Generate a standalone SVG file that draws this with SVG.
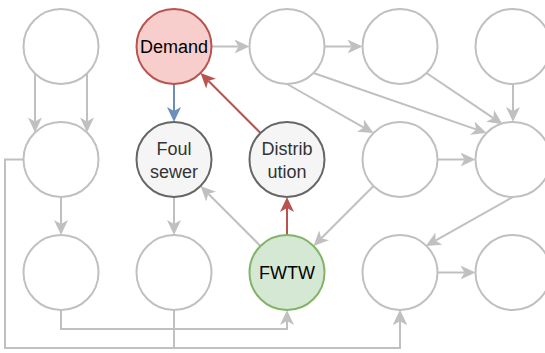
<svg xmlns="http://www.w3.org/2000/svg" width="545" height="353" viewBox="0 0 545 353">
  <style>
    .n { fill: #ffffff; stroke: #c0c0c0; stroke-width: 2; }
    .demand { fill: #f8cecc; stroke: #b85450; stroke-width: 2; }
    .grey { fill: #f5f5f5; stroke: #666666; stroke-width: 2; }
    .green { fill: #d5e8d4; stroke: #82b366; stroke-width: 2; }
    .e { fill: none; stroke: #c0c0c0; stroke-width: 2; marker-end: url(#ag); }
    .er { fill: none; stroke: #b85450; stroke-width: 2; marker-end: url(#ar); }
    .eb { fill: none; stroke: #6c8ebf; stroke-width: 2; marker-end: url(#ab); }
    .t { font-family: "Liberation Sans", Arial, Helvetica, sans-serif; font-size: 18px; text-anchor: middle; }
    .dark { fill: #000000; }
    .mid { fill: #333333; }
  </style>
  <defs>
    <marker id="ag" markerUnits="userSpaceOnUse" markerWidth="16" markerHeight="16" viewBox="0 0 16 16" refX="4" refY="8" orient="auto">
      <path d="M0,1 L15,8 L0,15 L4,8 z" fill="#c0c0c0"/>
    </marker>
    <marker id="ar" markerUnits="userSpaceOnUse" markerWidth="16" markerHeight="16" viewBox="0 0 16 16" refX="4" refY="8" orient="auto">
      <path d="M0,1 L15,8 L0,15 L4,8 z" fill="#b85450"/>
    </marker>
    <marker id="ab" markerUnits="userSpaceOnUse" markerWidth="16" markerHeight="16" viewBox="0 0 16 16" refX="4" refY="8" orient="auto">
      <path d="M0,1 L15,8 L0,15 L4,8 z" fill="#6c8ebf"/>
    </marker>
  </defs>

  <!-- connectors: each ends at the arrow notch, 11px short of the tip -->
  <g id="edges">
    <path class="e" d="M35,73.5 V121.5"/>
    <path class="e" d="M87,73.5 V121.5"/>
    <path class="e" d="M61,197 V224"/>
    <path class="e" d="M174,197 V224"/>
    <path class="eb" d="M174,84 V111"/>
    <path class="e" d="M211.5,46.5 H238.5"/>
    <path class="e" d="M324.5,46.5 H351.5"/>
    <path class="er" d="M260.5,133 L208.3,80.8"/>
    <path class="er" d="M287,235 V208"/>
    <path class="e" d="M260.5,246 L208.3,193.8"/>
    <path class="e" d="M287,84 L363.9,127.6"/>
    <path class="e" d="M313.5,73 L476.1,129.4"/>
    <path class="e" d="M426.5,73 L493.4,118.1"/>
    <path class="e" d="M513,84 V111"/>
    <path class="e" d="M437.5,159.5 H464.5"/>
    <path class="e" d="M373.5,186 L321.3,238.2"/>
    <path class="e" d="M513,197 L435.4,240.6"/>
    <path class="e" d="M437.5,272.5 H464.5"/>
    <path class="e" d="M61,310 V329 H287 V321"/>
    <path class="e" d="M23.5,159.5 H5 V348 H400 V321"/>
    <path class="e" d="M174,310 V348 H400 V321"/>
  </g>

  <!-- row 1 -->
  <g id="n11"><circle class="n" cx="61" cy="46.5" r="37.5"/></g>
  <g id="demand"><circle class="demand" cx="174" cy="46.5" r="37.5"/><text class="t dark" x="174" y="53">Demand</text></g>
  <g id="n13"><circle class="n" cx="287" cy="46.5" r="37.5"/></g>
  <g id="n14"><circle class="n" cx="400" cy="46.5" r="37.5"/></g>
  <g id="n15"><circle class="n" cx="513" cy="46.5" r="37.5"/></g>

  <!-- row 2 -->
  <g id="n21"><circle class="n" cx="61" cy="159.5" r="37.5"/></g>
  <g id="foul-sewer"><circle class="grey" cx="174" cy="159.5" r="37.5"/><text class="t mid" x="174" y="155">Foul</text><text class="t mid" x="174" y="178">sewer</text></g>
  <g id="distribution"><circle class="grey" cx="287" cy="159.5" r="37.5"/><text class="t mid" x="287" y="155">Distrib</text><text class="t mid" x="287" y="178">ution</text></g>
  <g id="n24"><circle class="n" cx="400" cy="159.5" r="37.5"/></g>
  <g id="n25"><circle class="n" cx="513" cy="159.5" r="37.5"/></g>

  <!-- row 3 -->
  <g id="n31"><circle class="n" cx="61" cy="272.5" r="37.5"/></g>
  <g id="n32"><circle class="n" cx="174" cy="272.5" r="37.5"/></g>
  <g id="fwtw"><circle class="green" cx="287" cy="272.5" r="37.5"/><text class="t dark" x="287" y="279">FWTW</text></g>
  <g id="n34"><circle class="n" cx="400" cy="272.5" r="37.5"/></g>
  <g id="n35"><circle class="n" cx="513" cy="272.5" r="37.5"/></g>
</svg>
